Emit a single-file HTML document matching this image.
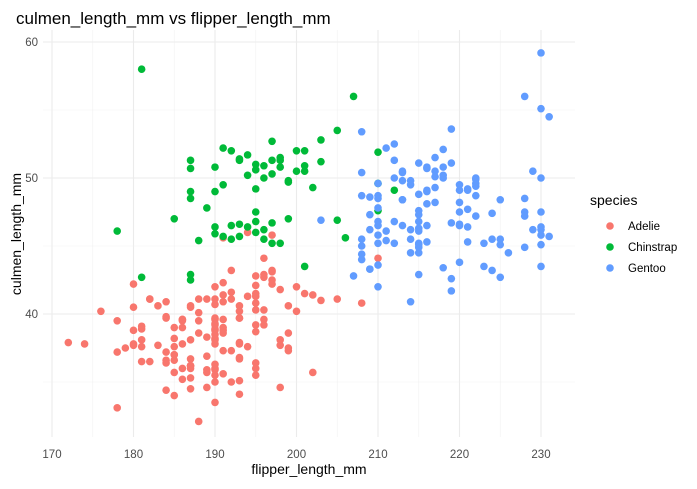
<!DOCTYPE html>
<html><head><meta charset="utf-8"><style>
body{margin:0;background:#fff;font-family:"Liberation Sans",sans-serif}
</style></head><body>
<svg width="697" height="484" id="chart" font-family="Liberation Sans, sans-serif">
<text x="16" y="24" font-size="17" fill="#000">culmen_length_mm vs flipper_length_mm</text>
<g id="grid"></g>
<g id="pts"></g>
<g id="axes"></g>
<text x="309" y="474" font-size="14" text-anchor="middle" fill="#000">flipper_length_mm</text>
<text transform="translate(21,234) rotate(-90)" font-size="14" text-anchor="middle" fill="#000">culmen_length_mm</text>
<g>
<text x="590" y="205" font-size="14" fill="#000">species</text>
<g id="leg"></g>
</g>
</svg>
<script>
const xTicks=[170,180,190,200,210,220,230];
const yTicks=[40,50,60];
const species=["Adelie","Chinstrap","Gentoo"];
const adelie=[[181,39.1],[186,39.5],[195,40.3],[193,36.7],[190,39.3],[181,38.9],[195,39.2],[193,34.1],[190,42],[186,37.8],[180,37.8],[182,41.1],[191,38.6],[198,34.6],[185,36.6],[195,38.7],[197,42.5],[184,34.4],[194,46],[174,37.8],[180,37.7],[189,35.9],[185,38.2],[180,38.8],[187,35.3],[183,40.6],[187,40.5],[172,37.9],[180,40.5],[178,39.5],[178,37.2],[188,39.5],[184,40.9],[195,36.4],[196,39.2],[190,38.8],[180,42.2],[181,37.6],[184,39.8],[182,36.5],[195,40.8],[186,36],[196,44.1],[185,37],[190,39.6],[182,41.1],[179,37.5],[190,36],[191,42.3],[186,39.6],[188,40.1],[190,35],[200,42],[187,34.5],[191,41.4],[186,39],[193,40.6],[181,36.5],[194,37.6],[185,35.7],[195,41.3],[185,37.6],[192,41.1],[184,36.4],[192,41.6],[195,35.5],[188,41.1],[190,35.9],[198,41.8],[190,33.5],[190,39.7],[196,39.6],[197,45.8],[190,35.5],[195,42.8],[191,40.9],[184,37.2],[187,36.2],[195,42.1],[189,34.6],[196,42.9],[187,36.7],[193,35.1],[191,37.3],[194,41.3],[190,36.3],[189,36.9],[189,38.3],[190,38.9],[202,35.7],[205,41.1],[185,34],[186,39.6],[187,36.2],[208,40.8],[190,38.1],[196,40.3],[178,33.1],[192,43.2],[192,35],[203,41],[183,37.7],[190,37.8],[193,37.9],[184,39.7],[199,38.6],[190,38.2],[181,38.1],[197,43.2],[198,38.1],[191,45.6],[193,39.7],[197,42.2],[191,39.6],[196,42.7],[188,38.6],[199,37.3],[189,35.7],[189,41.1],[187,36.2],[198,37.7],[176,40.2],[202,41.4],[186,35.2],[199,40.6],[191,38.8],[195,41.5],[191,39],[210,44.1],[190,38.5],[197,43.1],[193,36.8],[199,37.5],[187,38.1],[190,41.1],[191,35.6],[200,40.2],[185,37],[193,39.7],[193,40.2],[187,40.6],[188,32.1],[190,40.7],[192,37.3],[185,39],[190,39.2],[184,36.6],[195,36],[193,37.8],[187,36],[201,41.5]];
const chinstrap=[[192,46.5],[196,50],[193,51.3],[188,45.4],[197,52.7],[198,45.2],[178,46.1],[197,51.3],[195,46],[198,51.3],[193,46.6],[194,51.7],[185,47],[201,52],[190,45.9],[201,50.5],[197,50.3],[181,58],[190,46.4],[195,49.2],[181,42.7],[187,48.5],[187,42.5],[195,50.6],[197,46.7],[200,52],[200,50.5],[191,49.5],[194,46.4],[187,51.3],[201,43.5],[187,42.9],[196,45.5],[195,51],[199,49.7],[195,47.5],[210,47.6],[192,52],[205,46.9],[210,51.9],[187,49],[196,46.2],[196,50.9],[192,45.5],[201,50.9],[190,50.8],[212,49.1],[190,49],[198,51.5],[199,49.8],[205,53.5],[193,51.4],[191,45.7],[187,50.7],[197,45.2],[191,52.2],[203,52.8],[202,49.3],[194,50.2],[206,45.6],[189,47.8],[195,46.8],[203,51.2],[207,56],[193,45.7],[210,49.6],[198,50.8],[199,47]];
const gentoo=[[211,46.1],[230,50],[210,48.7],[218,50],[215,47.6],[210,46.5],[211,45.4],[219,46.7],[209,43.3],[215,46.8],[214,40.9],[216,49],[214,45.5],[213,48.4],[210,45.8],[217,49.3],[210,42],[221,49.2],[209,46.2],[222,48.7],[218,50.2],[215,45.1],[213,46.5],[215,46.3],[215,42.9],[215,46.1],[215,44.5],[210,47.8],[220,48.2],[222,50],[209,47.3],[207,42.8],[230,45.1],[230,59.2],[220,49.1],[213,48.4],[219,42.6],[208,44.4],[208,44],[208,48.7],[225,42.7],[210,49.6],[216,45.3],[222,49.6],[217,50.5],[210,43.6],[225,45.5],[213,50.5],[215,44.9],[210,45.2],[220,46.6],[210,48.5],[225,45.1],[217,50.1],[220,46.5],[208,45],[220,43.8],[208,45.5],[224,43.2],[208,50.4],[221,45.3],[214,46.2],[231,45.7],[219,53.6],[230,45.8],[214,49.8],[229,46.2],[220,49.5],[223,43.5],[216,50.7],[221,47.7],[221,46.4],[217,48.2],[216,46.5],[230,46.4],[209,48.6],[220,47.5],[215,51.1],[223,45.2],[212,45.2],[221,49.1],[212,52.5],[224,47.4],[212,50],[228,44.9],[218,50.8],[218,43.4],[212,51.3],[230,47.5],[218,52.1],[228,47.5],[211,52.2],[224,45.5],[214,49.5],[226,44.5],[216,50.8],[222,49.4],[203,46.9],[225,48.4],[219,51.1],[228,48.5],[228,56],[228,47.2],[216,49.1],[215,47.3],[210,46.8],[219,41.7],[208,53.4],[209,43.3],[216,48.1],[229,50.5],[213,49.8],[230,43.5],[217,51.5],[230,46.2],[230,55.1],[231,54.5],[214,44.5],[215,48.8],[222,47.2],[212,46.8],[213,50.4],[215,45.2],[222,49.9]];
const colors=["#F8766D","#00BA38","#619CFF"];
const NS="http://www.w3.org/2000/svg";
const L=43,R=575,T=30,B=437;
function xs(v){return 52+(v-170)*(541-52)/60;}
function ys(v){return 314-(v-40)*13.6;}
function mk(tag,attrs,parent){const e=document.createElementNS(NS,tag);for(const k in attrs)e.setAttribute(k,attrs[k]);parent.appendChild(e);return e;}
const grid=document.getElementById('grid'),axes=document.getElementById('axes');
xTicks.forEach((t,i)=>{
 const l=mk('line',{x1:xs(t),x2:xs(t),y1:T,y2:B,stroke:'#ebebeb','stroke-width':1.1},grid);
 
 
 if(i<xTicks.length-1){const m=mk('line',{x1:xs(t+5),x2:xs(t+5),y1:T,y2:B,stroke:'#f2f2f2','stroke-width':0.6},grid);
 
 }
 const tx=mk('text',{x:xs(t),y:458,'font-size':11.5,'text-anchor':'middle',fill:'#4d4d4d'},axes);tx.textContent=t;
 
 
});
[35,45,55].forEach(t=>{const m=mk('line',{x1:L,x2:R,y1:ys(t),y2:ys(t),stroke:'#f2f2f2','stroke-width':0.6},grid);
 
 });
yTicks.forEach(t=>{
 const l=mk('line',{x1:L,x2:R,y1:ys(t),y2:ys(t),stroke:'#ebebeb','stroke-width':1.1},grid);
 
 
 const tx=mk('text',{x:38,y:ys(t)+4,'font-size':11.5,'text-anchor':'end',fill:'#4d4d4d'},axes);tx.textContent=t;
 
 
});
const pts=document.getElementById('pts');
[adelie,chinstrap,gentoo].forEach((arr,si)=>{arr.forEach(d=>{
 const c=mk('circle',{cx:xs(d[0]),cy:ys(d[1]),r:3.8,fill:colors[si]},pts);
 
 
});});
const leg=document.getElementById('leg');
species.forEach((s,i)=>{
 const y=226+i*21;
 const c=mk('circle',{cx:610,cy:y,r:3.8,fill:colors[i]},leg);
 
 
 const t=mk('text',{x:628,y:y+4,'font-size':11.5,fill:'#000'},leg);t.textContent=s;
 
 
});
</script>
</body></html>
